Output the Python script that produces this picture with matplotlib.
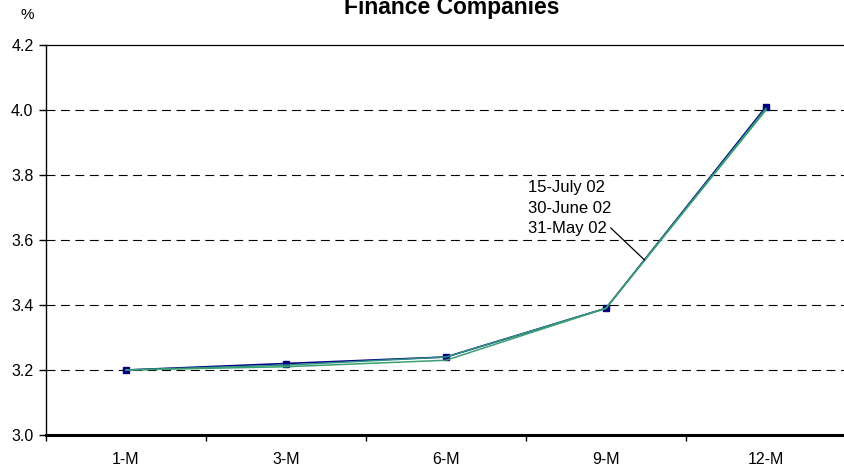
import matplotlib
matplotlib.use("Agg")
import matplotlib.pyplot as plt
import numpy as np

plt.rcParams['font.family'] = ['Liberation Sans', 'DejaVu Sans']

# Yield curve data (in %)
maturities = ["1-M", "3-M", "6-M", "9-M", "12-M"]
yield_15jul = [3.20, 3.22, 3.24, 3.39, 4.01]
yield_30jun = [3.20, 3.215, 3.24, 3.39, 4.005]
yield_31may = [3.20, 3.21, 3.23, 3.39, 4.00]
series_labels = ["15-July 02", "30-June 02", "31-May 02"]
y_ticks = [3.0, 3.2, 3.4, 3.6, 3.8, 4.0, 4.2]

W, H = 845, 468
fig = plt.figure(figsize=(W / 100, H / 100), dpi=100)
ax = fig.add_axes([46 / W, 1 - 435 / H, 800 / W, 390 / H])

x = np.arange(len(maturities))

ax.plot(x, yield_15jul, color="#000080", lw=1.2, marker="s", ms=5,
        mfc="#000080", mec="#000080", zorder=3)
ax.plot(x, yield_30jun, color="#2F8F86", lw=1.1, zorder=4)
ax.plot(x, yield_31may, color="#3AA070", lw=1.1, zorder=5)

ax.set_xlim(-0.5, len(maturities) - 0.5)
ax.set_ylim(3.0, 4.2)

# dashed horizontal gridlines
for yv in y_ticks[1:-1]:
    ax.axhline(yv, color="black", lw=0.8, ls=(0, (8, 5)), zorder=1)

ax.set_yticks(y_ticks)
ax.set_yticklabels([f"{v:.1f}" for v in y_ticks], fontsize=11.5)
ax.set_xticks(x)
ax.set_xticklabels(maturities, fontsize=11.5)
ax.set_xticks(np.arange(len(maturities) + 1) - 0.5, minor=True)
ax.tick_params(axis="x", which="major", length=0, pad=12)
ax.tick_params(axis="x", which="minor", length=4, width=1, direction="out")
ax.tick_params(axis="y", which="major", length=5, width=1, direction="out", pad=4)

ax.spines["right"].set_visible(False)
ax.spines["top"].set_linewidth(0.9)
ax.spines["left"].set_linewidth(1.0)
ax.spines["bottom"].set_linewidth(2.2)

# series labels with leader line to the curves
label_x = 2.515
label_y = [3.762, 3.697, 3.634]
for lab, ly in zip(series_labels, label_y):
    ax.text(label_x, ly, lab, fontsize=12, va="center", ha="left", zorder=6)
t = 0.24
lead_y = yield_15jul[3] + t * (yield_15jul[4] - yield_15jul[3])
ax.plot([3.03, 3 + t], [3.637, lead_y], color="black", lw=0.9, zorder=6)

fig.text(27 / W, 1 - 15 / H, "%", fontsize=11, ha="center", va="center")
fig.text(452 / W, 1 - 14 / H, "Finance Companies", fontsize=16.5,
         fontweight="bold", ha="center", va="baseline")

fig.savefig("out.png", dpi=100)
